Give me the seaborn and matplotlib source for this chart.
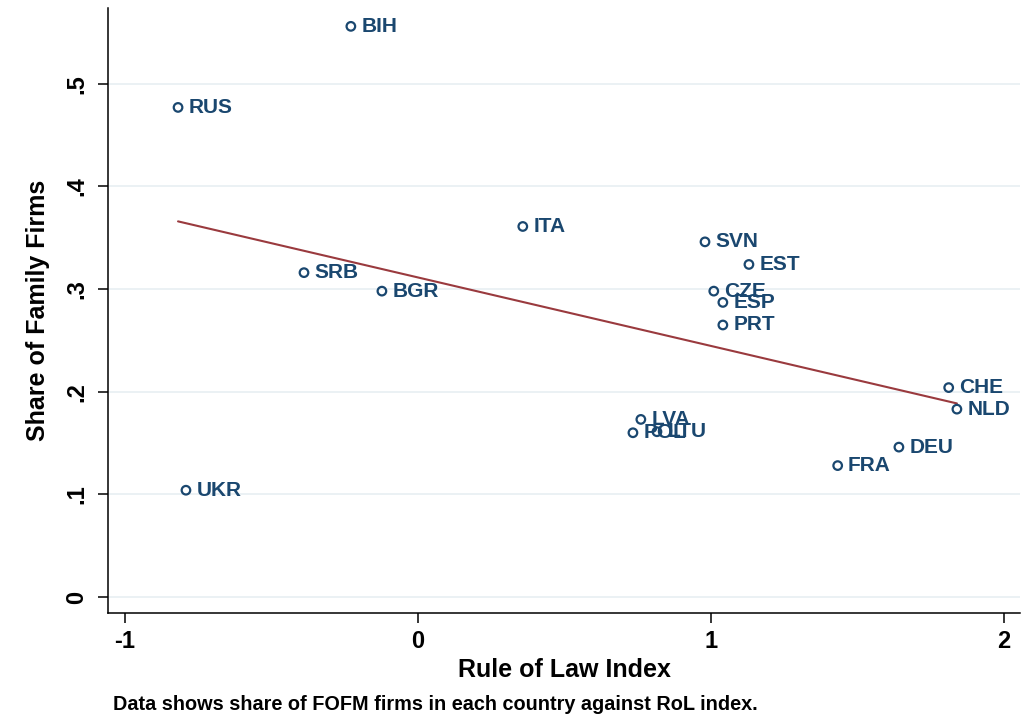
import matplotlib
matplotlib.use("Agg")
import matplotlib.pyplot as plt
import seaborn as sns
import pandas as pd

# country, rule of law index, share of family firms
countries = ["BIH", "RUS", "ITA", "SVN", "EST", "SRB", "BGR", "CZE", "ESP",
             "PRT", "CHE", "NLD", "LVA", "LTU", "POL", "DEU", "FRA", "UKR"]
rol_index = [-0.229, -0.819, 0.358, 0.980, 1.130, -0.389, -0.123, 1.010, 1.041,
             1.041, 1.812, 1.840, 0.761, 0.816, 0.734, 1.642, 1.433, -0.792]
family_share = [0.556, 0.477, 0.361, 0.346, 0.324, 0.316, 0.298, 0.298, 0.287,
                0.265, 0.204, 0.183, 0.173, 0.161, 0.160, 0.146, 0.128, 0.104]

x_ticks = [-1, 0, 1, 2]
y_ticks = [0, 0.1, 0.2, 0.3, 0.4, 0.5]
y_tick_labels = ["0", ".1", ".2", ".3", ".4", ".5"]

df = pd.DataFrame({"country": countries, "rol": rol_index, "share": family_share})

navy = "#1a476f"
maroon = "#9a3a3e"

sns.set_style("white")
plt.rcParams["font.family"] = ["Liberation Sans", "DejaVu Sans"]
plt.rcParams["font.weight"] = "bold"
plt.rcParams["text.color"] = "black"
plt.rcParams["axes.labelcolor"] = "black"
plt.rcParams["axes.labelweight"] = "bold"
plt.rcParams["xtick.color"] = "black"
plt.rcParams["ytick.color"] = "black"

fig = plt.figure(figsize=(10.25, 7.16), dpi=100)
ax = fig.add_axes([0.1054, 0.1439, 0.8896, 0.8451])

# fitted line
sns.regplot(data=df, x="rol", y="share", scatter=False, ci=None, ax=ax,
            line_kws={"color": maroon, "linewidth": 1.5})

# hollow markers
sns.scatterplot(data=df, x="rol", y="share", ax=ax, marker="o", s=38,
                facecolors="none", edgecolor=navy, linewidth=1.6, zorder=3)

for c, xv, yv in zip(countries, rol_index, family_share):
    ax.annotate(c, (xv, yv), xytext=(7.5, 0), textcoords="offset points",
                va="center", ha="left", fontsize=15, fontweight="bold",
                color=navy, zorder=4)

ax.set_xlim(-1.058, 2.055)
ax.set_ylim(-0.0156, 0.574)
ax.set_xticks(x_ticks)
ax.set_xticklabels([str(v) for v in x_ticks])
ax.set_yticks(y_ticks)
ax.set_yticklabels(y_tick_labels, rotation=90, va="center")

ax.grid(axis="y", color="#e8eff2", linewidth=1.2)
ax.grid(axis="x", visible=False)
ax.set_axisbelow(True)

for side in ["top", "right"]:
    ax.spines[side].set_visible(False)
for side in ["left", "bottom"]:
    ax.spines[side].set_color("black")
    ax.spines[side].set_linewidth(1.1)

ax.tick_params(axis="both", direction="out", length=7.5, width=1.1, color="black",
               labelsize=17, bottom=True, left=True)
ax.tick_params(axis="x", pad=5)
ax.tick_params(axis="y", pad=7)

ax.set_xlabel("Rule of Law Index", fontsize=18, fontweight="bold")
ax.set_ylabel("Share of Family Firms", fontsize=18, fontweight="bold")
ax.xaxis.set_label_coords(0.5, -0.075)
ax.yaxis.set_label_coords(-0.064, 0.5)

fig.text(113 / 1025, 1 - 704 / 716, "Data shows share of FOFM firms in each country against RoL index.",
         fontsize=14.3, fontweight="bold", ha="left", va="center")

fig.savefig("out.png", dpi=100)
